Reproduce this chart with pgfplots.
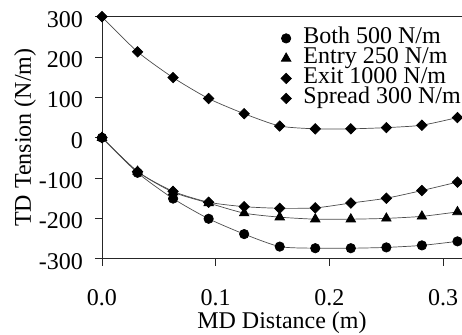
\documentclass[border=0pt]{standalone}
\usepackage{fontspec}
\setmainfont{Liberation Serif}
\usepackage{pgfplots}
\pgfplotsset{compat=1.18}
\newcommand{\bigf}{\fontsize{24}{27}\selectfont}
\begin{document}
\begin{tikzpicture}[x=1pt,y=1pt]
\begin{axis}[
  at={(0,0)}, anchor=south west,
  scale only axis, width=360pt, height=242pt,
  xmin=0, xmax=0.3165, ymin=-300, ymax=300,
  axis x line*=box, axis y line*=left,
  xtick pos=bottom, ytick pos=left,
  tick align=outside, major tick length=7pt,
  axis line style={line width=0.8pt, black!85},
  tick style={line width=0.8pt, black!85},
  xtick={0,0.1,0.2,0.3},
  ytick={-300,-200,-100,0,100,200,300},
  /pgf/number format/assume math mode=true,
  tick label style={font=\bigf},
  label style={font=\bigf},
  xticklabel style={/pgf/number format/.cd, fixed, fixed zerofill, precision=1, /tikz/.cd, anchor=base, yshift=-39.6pt},
  yticklabel style={xshift=-8.7pt, yshift=-2.5pt},
  xlabel={MD Distance (m)},
  ylabel={TD Tension (N/m)},
  xlabel style={at={(axis description cs:0.5,0)}, anchor=base, yshift=-70pt},
  ylabel style={at={(axis description cs:-0.2139,0.5)}, anchor=center},
  every axis plot/.append style={line width=0.7pt, black!70, smooth, tension=0.4},
  legend image code/.code={\draw[#1] plot[only marks] coordinates {(0pt,0pt)}; \path (17pt,0pt);},
  legend style={at={(rel axis cs:1,1)}, anchor=north east, xshift=-1pt, yshift=-12pt,
     draw=none, fill=none, inner sep=0pt, row sep=1pt, font=\bigf,
     nodes={text height=14.5pt, text depth=4.5pt, inner sep=0pt},
     every even column/.style={column sep=0pt}},
  legend cell align=left,
  clip=false,
]
\addplot[mark=*, mark size=4.7pt, mark options={fill=black, draw=black, solid}] coordinates {
 (0,0) (0.03125,-87) (0.0625,-151) (0.09375,-201) (0.125,-239) (0.15625,-270)
 (0.1875,-274) (0.21875,-274) (0.25,-272) (0.28125,-267) (0.3125,-257)};
\addplot[mark=triangle*, mark size=5.5pt, mark options={fill=black, draw=black, solid}] coordinates {
 (0,0) (0.03125,-84) (0.0625,-135) (0.09375,-162) (0.125,-187) (0.15625,-197)
 (0.1875,-202) (0.21875,-202) (0.25,-200) (0.28125,-195) (0.3125,-184)};
\addplot[mark=square*, mark size=3.7pt, mark options={fill=black, draw=black, solid, rotate=45}] coordinates {
 (0,0) (0.03125,-84) (0.0625,-133) (0.09375,-160) (0.125,-171) (0.15625,-175)
 (0.1875,-174) (0.21875,-162) (0.25,-150) (0.28125,-131) (0.3125,-110)};
\addplot[mark=square*, mark size=3.7pt, mark options={fill=black, draw=black, solid, rotate=45}] coordinates {
 (0,300) (0.03125,213) (0.0625,149) (0.09375,97) (0.125,59.5) (0.15625,29)
 (0.1875,22) (0.21875,22) (0.25,25) (0.28125,31) (0.3125,50)};
\legend{Both 500 N/m, Entry 250 N/m, Exit 1000 N/m, Spread 300 N/m}
\end{axis}
\pgfresetboundingbox
\useasboundingbox (-102,-75.3) rectangle (360,258.7);
\end{tikzpicture}
\end{document}
